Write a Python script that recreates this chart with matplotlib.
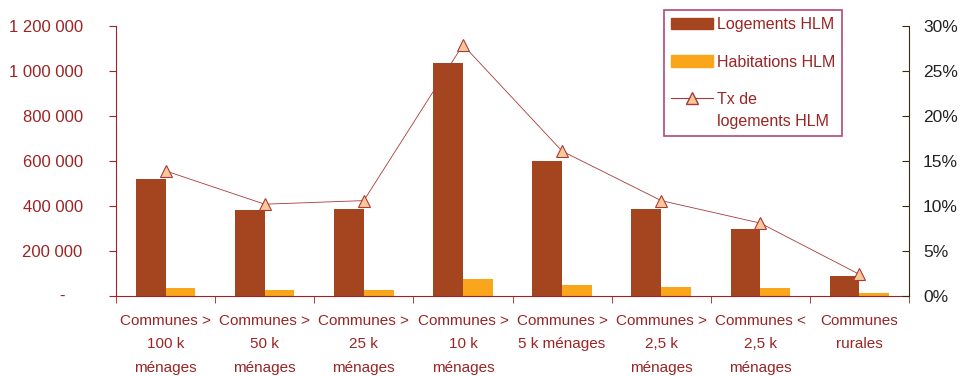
import numpy as np
import matplotlib.pyplot as plt
from matplotlib.patches import Patch
from matplotlib.lines import Line2D
from matplotlib.legend_handler import HandlerLine2D
from matplotlib.ticker import FuncFormatter, FixedLocator

plt.rcParams['font.family'] = ['Liberation Sans', 'DejaVu Sans']

categories = [
    "Communes >\n100 k\nménages",
    "Communes >\n50 k\nménages",
    "Communes >\n25 k\nménages",
    "Communes >\n10 k\nménages",
    "Communes >\n5 k ménages",
    "Communes >\n2,5 k\nménages",
    "Communes <\n2,5 k\nménages",
    "Communes\nrurales",
]
logements = [520000, 382000, 387000, 1035000, 600000, 387000, 298000, 89000]
habitations = [35000, 26000, 26000, 75000, 48000, 40000, 35000, 13000]
taux = [0.139, 0.102, 0.106, 0.279, 0.161, 0.106, 0.081, 0.024]

dark_red = '#9b2424'
brown = '#a5451f'
orange = '#f9a61c'
line_red = '#a83a3a'


class FirstLineHandler(HandlerLine2D):
    # puts the line handle level with the first row of a two-row label
    def create_artists(self, legend, orig_handle, xdescent, ydescent,
                       width, height, fontsize, trans):
        arts = super().create_artists(legend, orig_handle, xdescent, ydescent,
                                      width, height, fontsize, trans)
        for a in arts:
            a.set_ydata(np.asarray(a.get_ydata()) + 0.8 * fontsize)
        return arts


fig = plt.figure(figsize=(9.63, 3.76), dpi=100)
ax = fig.add_axes([116 / 963, 1 - 296 / 376, (909 - 116) / 963, (296 - 26) / 376])

x = np.arange(len(categories))
w = 0.3
ax.bar(x - w / 2, logements, w, color=brown, zorder=2)
ax.bar(x + w / 2, habitations, w, color=orange, zorder=2)

ax.set_xlim(-0.5, len(categories) - 0.5)
ax.set_ylim(0, 1200000)
ax.set_yticks(np.arange(0, 1200001, 200000))
ax.yaxis.set_major_formatter(FuncFormatter(
    lambda v, p: '' if v == 0 else f'{int(v):,}'.replace(',', ' ')))
ax.tick_params(axis='y', colors=dark_red, labelcolor=dark_red, labelsize=12,
               length=5, pad=19)
# zero shown as a dash, set in from the other labels
ax.annotate('-', xy=(0, 0), xycoords=('axes fraction', 'data'),
            xytext=(-54, 0), textcoords='offset pixels',
            fontsize=12, color=dark_red, ha='center', va='center')

ax.set_xticks(x)
ax.set_xticklabels(categories, fontsize=11, color=dark_red, linespacing=1.85)
ax.tick_params(axis='x', which='major', length=0, pad=13)
ax.xaxis.set_minor_locator(FixedLocator(np.arange(-0.5, len(categories), 1)))
ax.tick_params(axis='x', which='minor', length=5, color=dark_red)

for side in ['top', 'right']:
    ax.spines[side].set_visible(False)
ax.spines['left'].set_color(dark_red)
ax.spines['bottom'].set_color(dark_red)
ax.spines['bottom'].set_zorder(3)

ax2 = ax.twinx()
ax2.plot(x, taux, color=line_red, lw=0.6, marker='^', markersize=8,
         markerfacecolor='#f9c898', markeredgecolor=line_red, markeredgewidth=0.8, zorder=4)
ax2.set_ylim(0, 0.30)
ax2.set_yticks(np.arange(0, 0.301, 0.05))
ax2.yaxis.set_major_formatter(FuncFormatter(lambda v, p: f'{v * 100:.0f}%'))
ax2.tick_params(axis='y', direction='in', length=5, colors='#3a2a10',
                labelcolor='#222222', labelsize=12.5, pad=10)
for side in ['top', 'left', 'bottom']:
    ax2.spines[side].set_visible(False)
ax2.spines['right'].set_color('#3a2a10')

rate_handle = Line2D([], [], color=line_red, lw=0.8, marker='^', markersize=8,
                     markerfacecolor='#f9c898', markeredgecolor=line_red)
handles = [Patch(color=brown), Patch(color=orange), rate_handle]
labels = ['Logements HLM', 'Habitations HLM', 'Tx de\nlogements HLM']
leg = fig.legend(handles, labels, loc='upper left',
                 bbox_to_anchor=(664 / 963, 1 - 10 / 376),
                 fontsize=11.5, labelcolor=dark_red, frameon=True, fancybox=False,
                 edgecolor='#b04878', framealpha=1, handlelength=2.6,
                 handleheight=0.75, handletextpad=0.25, labelspacing=1.4,
                 borderpad=0.45, borderaxespad=0,
                 handler_map={rate_handle: FirstLineHandler()})
leg.get_frame().set_linewidth(1.2)
for t in leg.get_texts():
    t.set_linespacing(1.6)

fig.savefig('out.png', dpi=100)
